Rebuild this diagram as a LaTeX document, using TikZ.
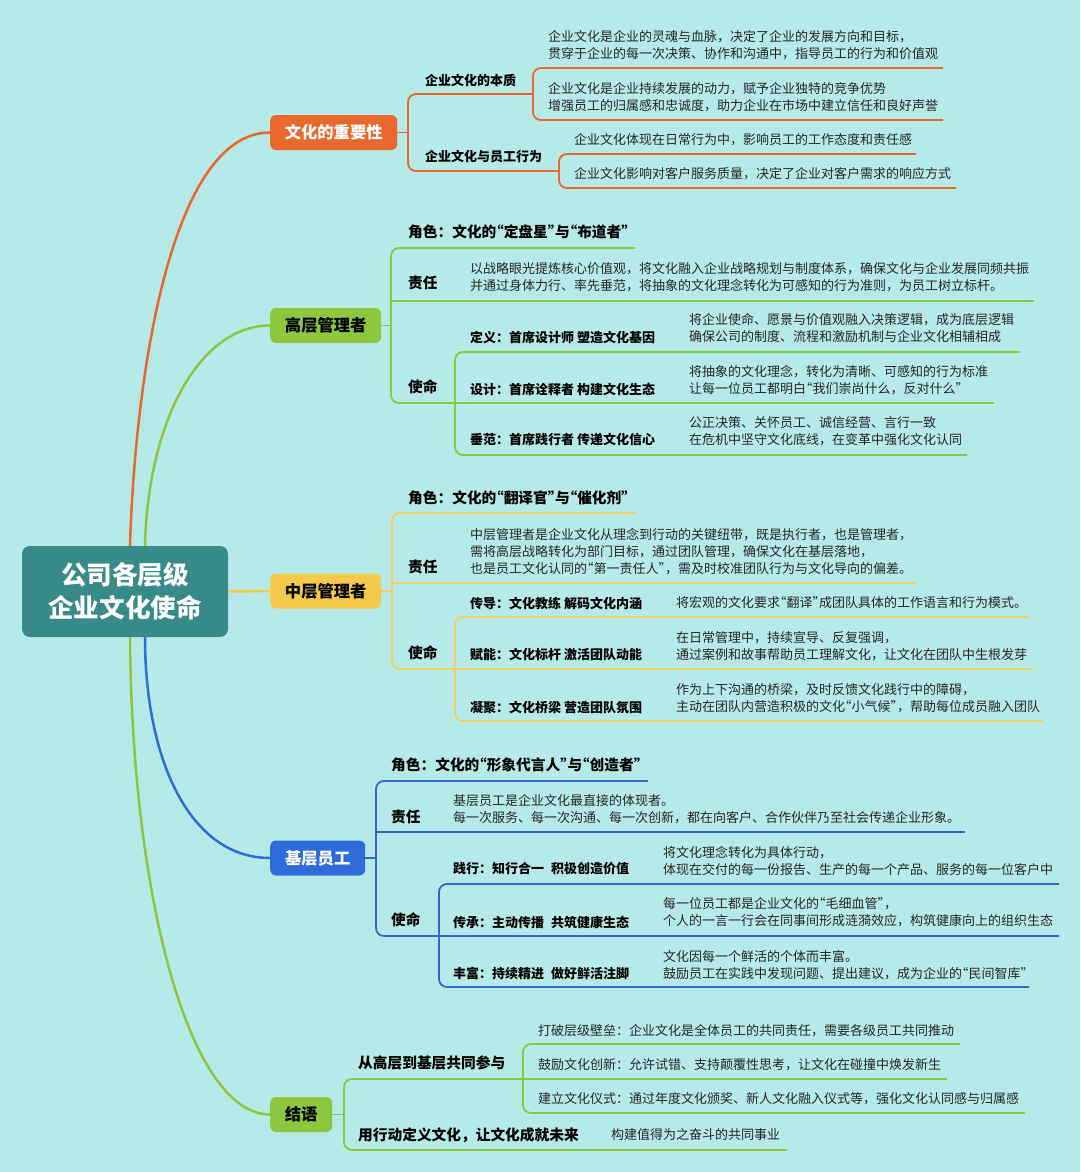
\documentclass[tikz,border=0pt]{standalone}
\usepackage{fontspec}
\setmainfont{Noto Sans CJK SC}
\usetikzlibrary{calc}
\definecolor{bgc}{RGB}{182,234,233}
\definecolor{rootc}{RGB}{56,139,137}
\definecolor{orc}{RGB}{233,104,45}
\definecolor{grc}{RGB}{141,198,63}
\definecolor{ylc}{RGB}{243,202,76}
\definecolor{yll}{RGB}{241,207,94}
\definecolor{blc}{RGB}{46,107,219}
\definecolor{bll}{RGB}{53,102,214}
\definecolor{txt}{RGB}{38,38,38}
\newcommand\mmbracket[6]{\draw[#1] (#4,#3) -- (#2,#3) -- (#2,#5) -- (#6,#5);}
\newcommand\oq{\makebox[0.5em][r]{“}}
\newcommand\cq{\makebox[0.5em][l]{”}}
\begin{document}
\begin{tikzpicture}[x=1pt,y=-1pt,
  rootbox/.style={fill=rootc, rounded corners=8pt, minimum width=206pt, minimum height=91pt, inner sep=0pt, text=white, align=center, font=\fontsize{25.6}{33}\selectfont\bfseries},
  branchbox/.style={anchor=west, rounded corners=6pt, minimum height=35pt, inner sep=0pt, font=\fontsize{16.3}{20}\selectfont\bfseries},
  body/.style={anchor=west, inner sep=0pt, align=left, text=txt, font=\fontsize{13}{17}\selectfont},
  lblA/.style={anchor=west, inner sep=0pt, text=black, font=\fontsize{13}{17}\selectfont\bfseries},
  lblB/.style={anchor=west, inner sep=0pt, text=black, font=\fontsize{14.7}{18}\selectfont\bfseries},
  curve/.style={line width=2.5pt},
  oline/.style={orc, line width=1.8pt, rounded corners=8pt},
  gline/.style={grc, line width=1.8pt, rounded corners=8pt},
  yline/.style={yll, line width=1.8pt, rounded corners=8pt},
  bline/.style={bll, line width=1.8pt, rounded corners=8pt}
]
\fill[bgc] (0,0) rectangle (1080,1172);
\useasboundingbox (0,0) rectangle (1080,1172);

% root and branches
\node[rootbox] (root) at (125,591.5) {公司各层级\\企业文化使命};
\node[branchbox, fill=orc, text=white, minimum width=127pt] (imp) at (270,132.5) {文化的重要性};
\node[branchbox, fill=grc, text=black, minimum width=111pt] (top) at (270,325.5) {高层管理者};
\node[branchbox, fill=ylc, text=black, minimum width=111pt] (mid) at (270,591) {中层管理者};
\node[branchbox, fill=blc, text=white, minimum width=95pt] (base) at (270,858) {基层员工};
\node[branchbox, fill=grc, text=black, minimum width=62pt] (concl) at (270,1114.5) {结语};

\draw[curve, orc] ([xshift=5pt]root.north) .. controls (135,380) and (170,132.5) .. (imp.west);
\draw[curve, grc] ([xshift=20pt]root.north) .. controls (148,420) and (200,325.5) .. (top.west);
\draw[curve, ylc] (root.east) -- (mid.west);
\draw[curve, blc] ([xshift=20pt]root.south) .. controls (145,760) and (190,858) .. (base.west);
\draw[curve, grc] ([xshift=5pt]root.south) .. controls (132,900) and (190,1114.5) .. (concl.west);

% ===== Section 1
\draw[oline] (imp.east) -- (408,132.5);
\mmbracket{oline}{408}{94}{533}{171}{559}
\mmbracket{oline}{533}{68}{943}{120}{943}
\mmbracket{oline}{559}{154}{916}{188}{956}
\node[lblA] (s1a) at (425,80) {企业文化的本质};
\node[lblA] (s1b) at (425,157) {企业文化与员工行为};
\node[body] (s1a1) at (548,45) {企业文化是企业的灵魂与血脉，决定了企业的发展方向和目标，\\贯穿于企业的每一次决策、协作和沟通中，指导员工的行为和价值观};
\node[body] (s1a2) at (548,97.5) {企业文化是企业持续发展的动力，赋予企业独特的竞争优势\\增强员工的归属感和忠诚度，助力企业在市场中建立信任和良好声誉};
\node[body] (s1b1) at (574,140) {企业文化体现在日常行为中，影响员工的工作态度和责任感};
\node[body] (s1b2) at (574,174) {企业文化影响对客户服务质量，决定了企业对客户需求的响应方式};

% ===== Section 2
\draw[gline] (top.east) -- (391,325.5);
\mmbracket{gline}{391}{248}{635}{403}{455}
\draw[gline] (391,301) -- (1034,301);
\mmbracket{gline}{455}{352}{1020}{455}{967}
\draw[gline] (455,403) -- (994,403);
\node[lblB] (s2r) at (408,232) {角色：文化的\oq 定盘星\cq 与\oq 布道者\cq};
\node[lblB] (s2z) at (408,283) {责任};
\node[body] (s2z1) at (470,277) {以战略眼光提炼核心价值观，将文化融入企业战略规划与制度体系，确保文化与企业发展同频共振\\并通过身体力行、率先垂范，将抽象的文化理念转化为可感知的行为准则，为员工树立标杆。};
\node[lblB] (s2m) at (408,387) {使命};
\node[lblA] (s2m1) at (470,337) {定义：首席设计师 塑造文化基因};
\node[body] (s2m1c) at (689,328) {将企业使命、愿景与价值观融入决策逻辑，成为底层逻辑\\确保公司的制度、流程和激励机制与企业文化相辅相成};
\node[lblA] (s2m2) at (470,389) {设计：首席诠释者 构建文化生态};
\node[body] (s2m2c) at (689,380.5) {将抽象的文化理念，转化为清晰、可感知的行为标准\\让每一位员工都明白\oq 我们崇尚什么，反对什么\cq};
\node[lblA] (s2m3) at (470,440) {垂范：首席践行者 传递文化信心};
\node[body] (s2m3c) at (689,431.5) {公正决策、关怀员工、诚信经营、言行一致\\在危机中坚守文化底线，在变革中强化文化认同};

% ===== Section 3
\draw[yline] (mid.east) -- (392,591);
\mmbracket{yline}{392}{513}{635}{669}{455}
\draw[yline] (392,583) -- (916,583);
\mmbracket{yline}{455}{617}{1029}{721}{1042}
\draw[yline] (455,669) -- (1033,669);
\node[lblB] (s3r) at (408,498) {角色：文化的\oq 翻译官\cq 与\oq 催化剂\cq};
\node[lblB] (s3z) at (408,567) {责任};
\node[body] (s3z1) at (470,552) {中层管理者是企业文化从理念到行动的关键纽带，既是执行者，也是管理者，\\需将高层战略转化为部门目标，通过团队管理，确保文化在基层落地，\\也是员工文化认同的\oq 第一责任人\cq ，需及时校准团队行为与文化导向的偏差。};
\node[lblB] (s3m) at (408,653) {使命};
\node[lblA] (s3m1) at (470,603) {传导：文化教练 解码文化内涵};
\node[body] (s3m1c) at (676,603) {将宏观的文化要求\oq 翻译\cq 成团队具体的工作语言和行为模式。};
\node[lblA] (s3m2) at (470,654) {赋能：文化标杆 激活团队动能};
\node[body] (s3m2c) at (676,646) {在日常管理中，持续宣导、反复强调，\\通过案例和故事帮助员工理解文化，让文化在团队中生根发芽};
\node[lblA] (s3m3) at (470,707) {凝聚：文化桥梁 营造团队氛围};
\node[body] (s3m3c) at (676,698.5) {作为上下沟通的桥梁，及时反馈文化践行中的障碍，\\主动在团队内营造积极的文化\oq 小气候\cq ，帮助每位成员融入团队};

% ===== Section 4
\draw[bline] (base.east) -- (376,858);
\mmbracket{bline}{376}{781}{648}{936}{439}
\draw[bline] (376,832) -- (965,832);
\mmbracket{bline}{439}{884}{1059}{987}{1029}
\draw[bline] (439,936) -- (1059,936);
\node[lblB] (s4r) at (391,765) {角色：文化的\oq 形象代言人\cq 与\oq 创造者\cq};
\node[lblB] (s4z) at (391,817) {责任};
\node[body] (s4z1) at (453,809) {基层员工是企业文化最直接的体现者。\\每一次服务、每一次沟通、每一次创新，都在向客户、合作伙伴乃至社会传递企业形象。};
\node[lblB] (s4m) at (391,920) {使命};
\node[lblA] (s4m1) at (453,869) {践行：知行合一\hspace{7pt}积极创造价值};
\node[body] (s4m1c) at (663,860.5) {将文化理念转化为具体行动，\\体现在交付的每一份报告、生产的每一个产品、服务的每一位客户中};
\node[lblA] (s4m2) at (453,922) {传承：主动传播\hspace{7pt}共筑健康生态};
\node[body] (s4m2c) at (663,912.5) {每一位员工都是企业文化的\oq 毛细血管\cq ，\\个人的一言一行会在同事间形成涟漪效应，构筑健康向上的组织生态};
\node[lblA] (s4m3) at (453,973) {丰富：持续精进\hspace{7pt}做好鲜活注脚};
\node[body] (s4m3c) at (663,965) {文化因每一个鲜活的个体而丰富。\\鼓励员工在实践中发现问题、提出建议，成为企业的\oq 民间智库\cq};

% ===== Section 5
\draw[gline] (concl.east) -- (344,1114.5);
\mmbracket{gline}{344}{1079}{523}{1150}{787}
\mmbracket{gline}{523}{1044}{960}{1113}{1025}
\draw[gline] (523,1079) -- (947,1079);
\node[lblB] (s5a) at (358,1063) {从高层到基层共同参与};
\node[body] (s5a1) at (538,1031) {打破层级壁垒：企业文化是全体员工的共同责任，需要各级员工共同推动};
\node[body] (s5a2) at (538,1065) {鼓励文化创新：允许试错、支持颠覆性思考，让文化在碰撞中焕发新生};
\node[body] (s5a3) at (538,1099) {建立文化仪式：通过年度文化颁奖、新人文化融入仪式等，强化文化认同感与归属感};
\node[lblB] (s5b) at (358,1135) {用行动定义文化，让文化成就未来};
\node[body] (s5b1) at (611,1135) {构建值得为之奋斗的共同事业};
\end{tikzpicture}
\end{document}
